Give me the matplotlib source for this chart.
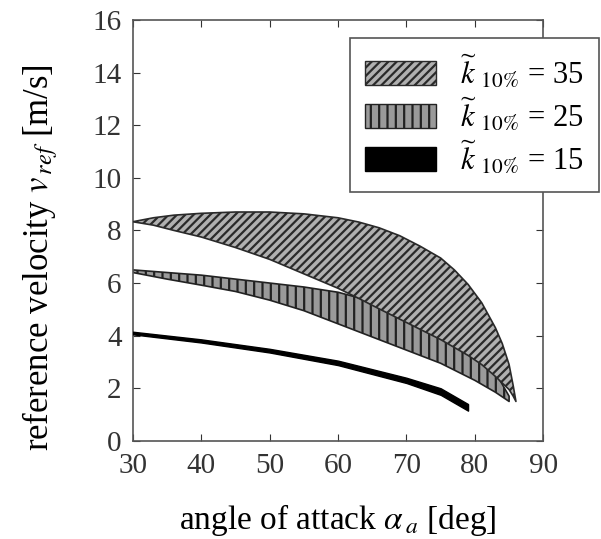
import matplotlib
matplotlib.use('agg')
import matplotlib.pyplot as plt
from matplotlib.patches import Patch

# angle of attack [deg] and reference velocity bands [m/s]
alpha_35 = [30, 33, 36, 40, 45, 50, 55, 60, 63, 66, 69, 72, 75, 77, 79, 81, 83, 84, 85, 85.6, 86]
upper_35 = [8.33, 8.48, 8.58, 8.65, 8.7, 8.7, 8.63, 8.48, 8.32, 8.1, 7.8, 7.4, 6.95, 6.5, 5.95,
            5.25, 4.3, 3.7, 2.9, 2.1, 1.5]
lower_35 = [8.33, 8.2, 8.0, 7.75, 7.35, 6.9, 6.35, 5.8, 5.42, 5.02, 4.63, 4.24, 3.85, 3.55, 3.25,
            2.9, 2.45, 2.2, 1.95, 1.7, 1.5]

alpha_25 = [30, 35, 40, 45, 50, 55, 60, 65, 70, 75, 80, 83, 85]
upper_25 = [6.5, 6.4, 6.3, 6.15, 6.0, 5.85, 5.65, 5.3, 4.9, 4.3, 3.4, 2.6, 1.7]
lower_25 = [6.4, 6.15, 5.92, 5.68, 5.35, 4.95, 4.45, 3.95, 3.45, 2.95, 2.3, 1.85, 1.5]

alpha_15 = [30, 40, 50, 60, 70, 75, 79]
upper_15 = [4.15, 3.86, 3.5, 3.05, 2.4, 2.0, 1.4]
lower_15 = [4.05, 3.74, 3.36, 2.88, 2.2, 1.75, 1.15]

labels = [r'$\widetilde{k}_{\;\,10\%}$ = 35', r'$\widetilde{k}_{\;\,10\%}$ = 25',
          r'$\widetilde{k}_{\;\,10\%}$ = 15']

plt.rcParams['font.family'] = 'Liberation Serif'
plt.rcParams['mathtext.fontset'] = 'stix'
plt.rcParams['hatch.linewidth'] = 1.6

fig = plt.figure(figsize=(6.01, 5.39), dpi=100)
ax = fig.add_axes([0.221, 0.182, 0.683, 0.781])

ax.fill_between(alpha_25, lower_25, upper_25, facecolor='#9a9a9a', edgecolor='#222222',
                hatch='||', linewidth=1.2, zorder=2)
ax.fill_between(alpha_35, lower_35, upper_35, facecolor='#b0b0b0', edgecolor='#2a2a2a',
                hatch='////', linewidth=1.2, zorder=3)
ax.fill_between(alpha_15, lower_15, upper_15, facecolor='black', edgecolor='black',
                linewidth=1.0, zorder=4)

ax.set_xlim(30, 90)
ax.set_ylim(0, 16)
ax.set_xticks(range(30, 91, 10))
ax.set_yticks(range(0, 17, 2))
ax.tick_params(direction='in', length=5, labelsize=21, top=True, right=True,
               colors='#333333')
ax.tick_params(axis='x', pad=9)
ax.tick_params(axis='y', pad=8)
for s in ax.spines.values():
    s.set_color('#555555')
    s.set_linewidth(1.2)

ax.set_xlabel(r'angle of attack $\alpha_{\,a}$ [deg]', fontsize=24, va='top')
ax.xaxis.set_label_coords(0.5, -0.145)
ax.set_ylabel(r'reference velocity $v_{\,ref}$ [m/s]', fontsize=25)
ax.yaxis.set_label_coords(-0.178, 0.435)

handles = [Patch(facecolor='#b0b0b0', edgecolor='#2a2a2a', hatch='////'),
           Patch(facecolor='#9a9a9a', edgecolor='#222222', hatch='||'),
           Patch(facecolor='black', edgecolor='black')]
leg = fig.legend(handles, labels, loc='upper left', bbox_to_anchor=(350 / 601, 1 - 38 / 539),
                 fontsize=22, handlelength=2.3, handleheight=0.8, handletextpad=0.8,
                 fancybox=False, framealpha=1, edgecolor='#555555', borderpad=0.5,
                 labelspacing=0.18, borderaxespad=0)
leg.get_frame().set_linewidth(1.2)

plt.savefig('out.png', dpi=100)
plt.close('all')
